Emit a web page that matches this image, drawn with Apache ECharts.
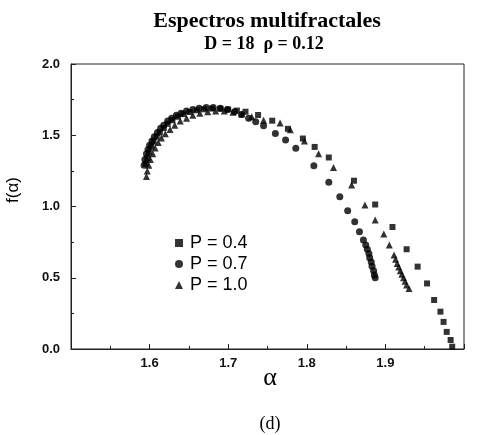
<!DOCTYPE html>
<html>
<head>
<meta charset="utf-8">
<script src="https://cdn.jsdelivr.net/npm/echarts@6/dist/echarts.min.js"></script>
<style>
  html, body { margin: 0; padding: 0; background: #ffffff; }
  #chart { width: 478px; height: 435px; }
</style>
</head>
<body>
<div id="chart"></div>
<script>
// alpha / f(alpha) pairs
var p04 = [
  [1.595, 1.30], [1.597, 1.34], [1.599, 1.38], [1.602, 1.42], [1.605, 1.455],
  [1.609, 1.49], [1.613, 1.52], [1.618, 1.55], [1.623, 1.58], [1.629, 1.605],
  [1.636, 1.63], [1.643, 1.648], [1.651, 1.663], [1.660, 1.675], [1.669, 1.682],
  [1.679, 1.687], [1.690, 1.686], [1.700, 1.681], [1.711, 1.673], [1.722, 1.665],
  [1.738, 1.642], [1.756, 1.602], [1.776, 1.545], [1.795, 1.477], [1.810, 1.418],
  [1.828, 1.344], [1.860, 1.181], [1.887, 1.014], [1.909, 0.856], [1.927, 0.70],
  [1.941, 0.578], [1.953, 0.46], [1.962, 0.344], [1.970, 0.262], [1.974, 0.19],
  [1.978, 0.12], [1.983, 0.063], [1.985, 0.016]
];
var p07 = [
  [1.593, 1.29], [1.594, 1.33], [1.596, 1.37], [1.598, 1.40], [1.600, 1.43],
  [1.603, 1.46], [1.606, 1.49], [1.610, 1.52], [1.614, 1.55], [1.618, 1.57],
  [1.623, 1.60], [1.628, 1.62], [1.634, 1.64], [1.640, 1.655], [1.647, 1.67],
  [1.655, 1.68], [1.663, 1.69], [1.672, 1.695], [1.681, 1.695], [1.690, 1.69],
  [1.699, 1.68], [1.708, 1.665], [1.717, 1.645], [1.726, 1.62], [1.735, 1.595],
  [1.745, 1.567], [1.760, 1.513], [1.773, 1.467], [1.786, 1.408], [1.809, 1.286],
  [1.828, 1.17], [1.842, 1.069], [1.852, 0.971], [1.861, 0.893], [1.867, 0.823],
  [1.872, 0.765], [1.875, 0.73], [1.877, 0.70], [1.879, 0.67], [1.880, 0.64],
  [1.882, 0.61], [1.883, 0.58], [1.885, 0.55], [1.886, 0.52], [1.887, 0.50]
];
var p10 = [
  [1.596, 1.21], [1.597, 1.25], [1.599, 1.29], [1.601, 1.33], [1.604, 1.37],
  [1.607, 1.41], [1.611, 1.45], [1.615, 1.48], [1.620, 1.51], [1.626, 1.54],
  [1.632, 1.57], [1.639, 1.60], [1.647, 1.62], [1.655, 1.64], [1.664, 1.655],
  [1.674, 1.665], [1.684, 1.67], [1.695, 1.67], [1.706, 1.662], [1.717, 1.65],
  [1.730, 1.63], [1.745, 1.605], [1.766, 1.586], [1.779, 1.539], [1.797, 1.46],
  [1.815, 1.37], [1.834, 1.274], [1.857, 1.151], [1.874, 1.01], [1.887, 0.905],
  [1.898, 0.807], [1.905, 0.73], [1.911, 0.66], [1.913, 0.63], [1.915, 0.60],
  [1.917, 0.575], [1.919, 0.55], [1.921, 0.525], [1.923, 0.50], [1.925, 0.475],
  [1.927, 0.45], [1.930, 0.425]
];
var seriesNames = ["P = 0.4", "P = 0.7", "P = 1.0"];
var xTickLabels = ["1.6", "1.7", "1.8", "1.9"];

var chart = echarts.init(document.getElementById("chart"));
var sans = "Liberation Sans";
var serif = "Liberation Serif";

chart.setOption({
  animation: false,
  backgroundColor: "#ffffff",
  grid: {
    left: 71,
    right: 14,
    top: 64,
    bottom: 86,
    show: true,
    borderColor: "#222",
    borderWidth: 1
  },
  legend: {
    orient: "vertical",
    left: 170,
    top: 229,
    itemWidth: 8,
    itemHeight: 8,
    itemGap: 3,
    textStyle: { fontFamily: sans, fontSize: 18, color: "#000", padding: [0, 0, 0, 2] },
    data: [
      { name: seriesNames[0], icon: "rect" },
      { name: seriesNames[1], icon: "circle" },
      { name: seriesNames[2], icon: "triangle" }
    ]
  },
  xAxis: {
    type: "value",
    min: 1.5,
    max: 2.0,
    interval: 0.1,
    axisLine: { show: true, lineStyle: { color: "#222" } },
    axisTick: { inside: true, length: 5, lineStyle: { color: "#222" } },
    minorTick: { show: true, splitNumber: 2, length: 3, lineStyle: { color: "#222" } },
    splitLine: { show: false },
    axisLabel: {
      fontFamily: sans,
      fontSize: 13,
      fontWeight: "bold",
      color: "#111",
      margin: 8,
      formatter: function (v) {
        var s = v.toFixed(1);
        return xTickLabels.indexOf(s) >= 0 ? s : "";
      }
    }
  },
  yAxis: {
    type: "value",
    min: 0,
    max: 2,
    interval: 0.5,
    axisLine: { show: true, lineStyle: { color: "#222" } },
    axisTick: { inside: true, length: 5, lineStyle: { color: "#222" } },
    minorTick: { show: true, splitNumber: 2, length: 3, lineStyle: { color: "#222" } },
    splitLine: { show: false },
    axisLabel: {
      fontFamily: sans,
      fontSize: 13,
      fontWeight: "bold",
      color: "#111",
      margin: 11,
      formatter: function (v) { return v.toFixed(1); }
    }
  },
  graphic: [
    {
      type: "text", x: 267, y: 21,
      style: { text: "Espectros multifractales", font: "bold 22px " + serif, fill: "#000", textAlign: "center", textVerticalAlign: "middle" }
    },
    {
      type: "text", x: 264, y: 44,
      style: { text: "D = 18  ρ = 0.12", font: "bold 18px " + serif, fill: "#000", textAlign: "center", textVerticalAlign: "middle" }
    },
    {
      type: "text", x: 13, y: 190, rotation: Math.PI / 2,
      style: { text: "f(α)", font: "17px " + sans, fill: "#000", textAlign: "center", textVerticalAlign: "middle" }
    },
    {
      type: "text", x: 270, y: 378,
      style: { text: "α", font: "26px " + serif, fill: "#000", textAlign: "center", textVerticalAlign: "middle" }
    },
    {
      type: "text", x: 270, y: 424,
      style: { text: "(d)", font: "18px " + serif, fill: "#000", textAlign: "center", textVerticalAlign: "middle" }
    }
  ],
  series: [
    {
      name: seriesNames[0], type: "scatter", symbol: "rect", symbolSize: 6,
      itemStyle: { color: "#000" }, data: p04
    },
    {
      name: seriesNames[1], type: "scatter", symbol: "circle", symbolSize: 7,
      itemStyle: { color: "#000" }, data: p07
    },
    {
      name: seriesNames[2], type: "scatter", symbol: "triangle", symbolSize: 7,
      itemStyle: { color: "#000" }, data: p10
    }
  ]
});
</script>
</body>
</html>
